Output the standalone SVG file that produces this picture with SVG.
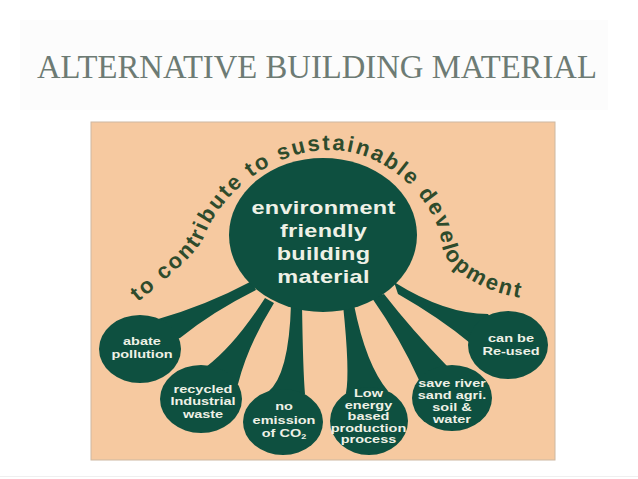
<svg xmlns="http://www.w3.org/2000/svg" width="638" height="479" viewBox="0 0 638 479">
<style>
.g{fill:#0e5040}
.b{font-family:"Liberation Sans",Arial,sans-serif;font-weight:bold;font-size:14.5px;fill:#eef1e6;text-anchor:middle}
.m{font-family:"Liberation Sans",Arial,sans-serif;font-weight:bold;font-size:23.5px;letter-spacing:0.3px;fill:#eef1e6;text-anchor:middle}
.arc{font-family:"Liberation Sans",Arial,sans-serif;font-weight:bold;font-size:22px;fill:#2e4b2c;letter-spacing:2.1px}
.title{font-family:"Liberation Serif","Times New Roman",serif;font-size:32.7px;fill:#6d7b74}
</style>
<defs>
<path id="arcpath" d="M138,302 C161,283 198,254 205,235 C219,197 270,150 330,150 C390,150 438,205 442,245 C444,270 487,295 530,299"/>
</defs>
<rect x="0" y="0" width="638" height="479" fill="#ffffff"/>
<rect x="20" y="20" width="588" height="90" fill="#fcfcfc"/>
<text class="title" x="37" y="78">ALTERNATIVE BUILDING MATERIAL</text>
<rect x="91" y="122" width="464" height="338" fill="#f6c9a0" stroke="#cdb8a2" stroke-width="1"/>
<line x1="0" y1="476.5" x2="638" y2="476.5" stroke="#efefef" stroke-width="1"/>

<g id="arc-label">
<text class="arc"><textPath href="#arcpath">to contribute to sustainable development</textPath></text>
</g>

<g id="connectors">
<path class="g" d="M252,281 Q205,306 155,320 L140,349 L180,338 Q212,312 256,290 Z"/>
<path class="g" d="M265,298 Q235,345 206,367 L201,399 L238,384 Q248,345 274,303 Z"/>
<path class="g" d="M291,304 Q289,375 268,392 L283,422 L305,394 Q303,372 302,304 Z"/>
<path class="g" d="M343,305 Q350,372 346,393 L369,421 L388,391 Q366,365 354,305 Z"/>
<path class="g" d="M372,298 Q400,338 419,380 L452,398 L447,366 Q412,330 384,294 Z"/>
<path class="g" d="M394,282 Q445,314 488,314 L508,345 L470,343 Q440,318 398,294 Z"/>
</g>

<g id="n-main">
<ellipse class="g" cx="323" cy="235" rx="94" ry="77"/>
<text class="m" transform="translate(323.5,214) scale(1,0.78)">environment</text>
<text class="m" transform="translate(323.5,237) scale(1,0.78)">friendly</text>
<text class="m" transform="translate(323.5,260) scale(1,0.78)">building</text>
<text class="m" transform="translate(323.5,283) scale(1,0.78)">material</text>
</g>

<g id="n-abate">
<ellipse class="g" cx="140" cy="349" rx="41" ry="34"/>
<text class="b" transform="translate(142,345) scale(1,0.78)">abate</text>
<text class="b" transform="translate(142,358) scale(1,0.78)">pollution</text>
</g>

<g id="n-recycled">
<ellipse class="g" cx="201" cy="399" rx="41" ry="34"/>
<text class="b" transform="translate(203,392.5) scale(1,0.75)">recycled</text>
<text class="b" transform="translate(203,405) scale(1,0.75)">Industrial</text>
<text class="b" transform="translate(203,417.5) scale(1,0.75)">waste</text>
</g>

<g id="n-co2">
<ellipse class="g" cx="283" cy="422" rx="40" ry="33"/>
<text class="b" transform="translate(284,410) scale(1,0.78)">no</text>
<text class="b" transform="translate(284,423.5) scale(1,0.78)">emission</text>
<text class="b" transform="translate(284,437) scale(1,0.78)">of CO<tspan font-size="9" dy="3">2</tspan></text>
</g>

<g id="n-energy">
<ellipse class="g" cx="369" cy="421" rx="39" ry="34"/>
<text class="b" font-size="14" transform="translate(368.5,397) scale(1,0.71)">Low</text>
<text class="b" font-size="14" transform="translate(368.5,408.5) scale(1,0.71)">energy</text>
<text class="b" font-size="14" transform="translate(368.5,420) scale(1,0.71)">based</text>
<text class="b" font-size="14" transform="translate(368.5,431.5) scale(1,0.71)">production</text>
<text class="b" font-size="14" transform="translate(368.5,443) scale(1,0.71)">process</text>
</g>

<g id="n-river">
<ellipse class="g" cx="452" cy="398" rx="40" ry="33"/>
<text class="b" transform="translate(452,387) scale(1,0.72)">save river</text>
<text class="b" transform="translate(452,399) scale(1,0.72)">sand agri.</text>
<text class="b" transform="translate(452,411) scale(1,0.72)">soil &amp;</text>
<text class="b" transform="translate(452,423) scale(1,0.72)">water</text>
</g>

<g id="n-reuse">
<ellipse class="g" cx="508" cy="345" rx="40" ry="34"/>
<text class="b" transform="translate(511,342) scale(1,0.78)">can be</text>
<text class="b" transform="translate(511,355) scale(1,0.78)">Re-used</text>
</g>
</svg>
